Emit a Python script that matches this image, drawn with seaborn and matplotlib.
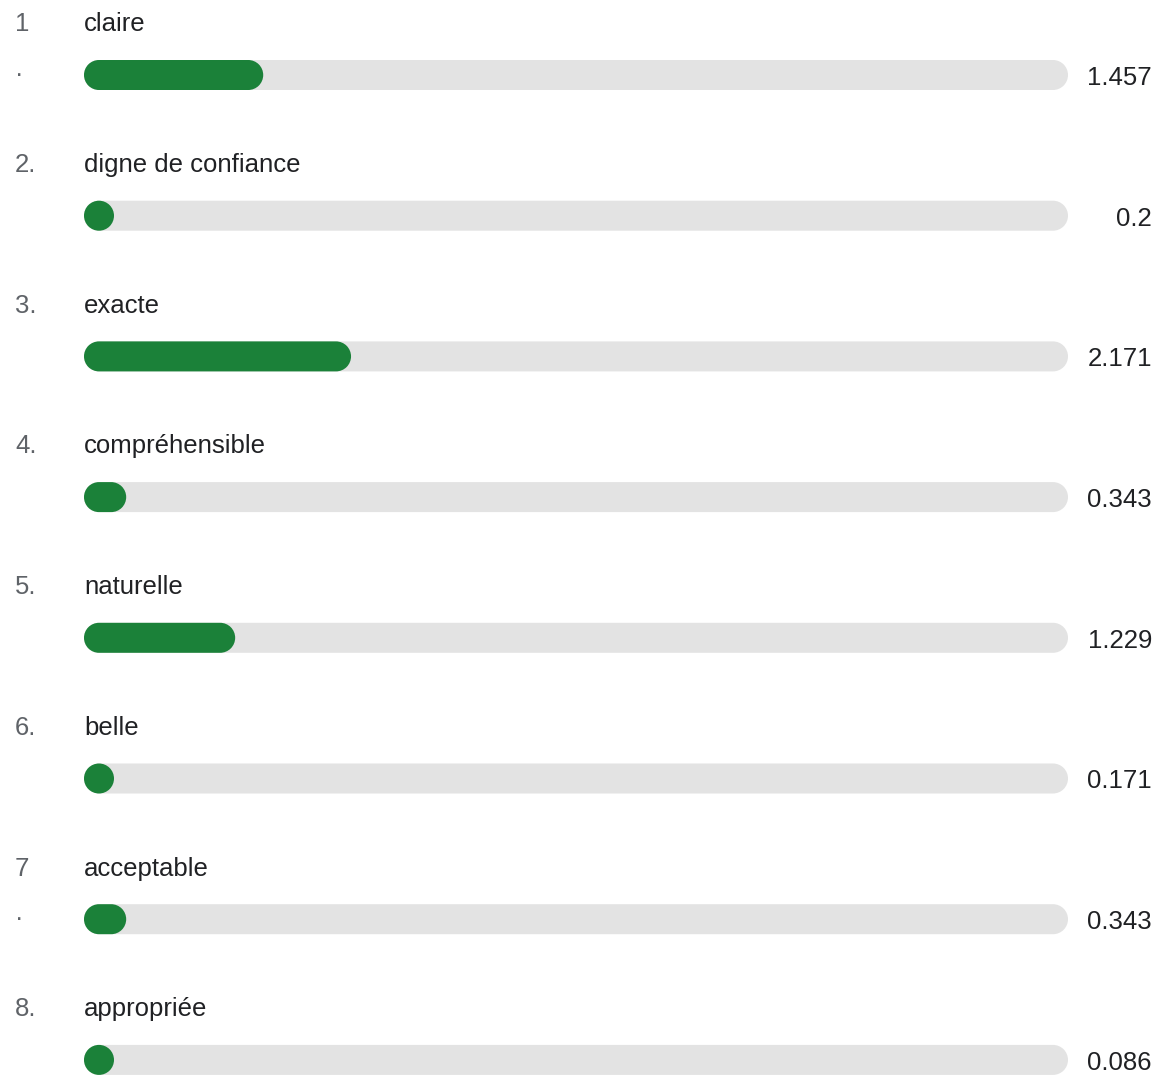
import matplotlib
matplotlib.use("Agg")
import matplotlib.pyplot as plt
import numpy as np
import pandas as pd
import seaborn as sns
from matplotlib import transforms
from matplotlib.path import Path
from matplotlib.patches import PathPatch

# data
numbers = ["1", "2.", "3.", "4.", "5.", "6.", "7", "8."]
number_marks = ["·", "", "", "", "", "", "·", ""]   # the wrapped "." of "1." and "7."
labels = ["claire", "digne de confiance", "exacte", "compréhensible",
          "naturelle", "belle", "acceptable", "appropriée"]
scores = [1.457, 0.2, 2.171, 0.343, 1.229, 0.171, 0.343, 0.086]
value_labels = ["1.457", "0.2", "2.171", "0.343", "1.229", "0.171", "0.343", "0.086"]
max_score = 8

GREEN = "#1b8139"
TRACK = "#e3e3e3"

df = pd.DataFrame({
    "label": labels,
    "score": scores,
    "track": [max_score] * len(labels),
})

sns.set_theme(style="white")
plt.rcParams["font.family"] = ["Liberation Sans", "DejaVu Sans"]

W, H = 1160, 1077
ROW_PX = 140.7
BAR_PX = 30
fig = plt.figure(figsize=(W / 100, H / 100), dpi=100)
ax = fig.add_axes([84 / W, 0, 984 / W, 1])

bar_w = BAR_PX / ROW_PX
sns.barplot(data=df, x="track", y="label", orient="h", color=TRACK,
            width=bar_w, saturation=1, ax=ax)
sns.barplot(data=df, x="score", y="label", orient="h", color=GREEN,
            width=bar_w, saturation=1, ax=ax)

ax.set_xlim(0, max_score)
ax.set_ylim((H - 75) / ROW_PX, -75 / ROW_PX)
ax.set_axis_off()


def pill(x, y, w, h, rx):
    # closed capsule path in data coords, semicircular ends
    ry = h / 2
    yc = y + ry
    right = Path.arc(-90, 90)
    left = Path.arc(90, 270)
    rv = right.vertices * [rx, ry] + [x + w - rx, yc]
    lv = left.vertices * [rx, ry] + [x + rx, yc]
    lc = left.codes.copy()
    lc[0] = Path.LINETO
    verts = np.vstack([rv, lv, rv[:1]])
    codes = np.concatenate([right.codes, lc, [Path.CLOSEPOLY]])
    return Path(verts, codes)


# turn the square bars into pills
p0 = ax.transData.transform((0, 0))
p1 = ax.transData.transform((1, 1))
rx = (BAR_PX / 2) / (p1[0] - p0[0])
for k, p in enumerate(list(ax.patches)):
    x, y = p.get_x(), p.get_y()
    w, h = p.get_width(), p.get_height()
    fc = p.get_facecolor()
    p.remove()
    ax.add_patch(PathPatch(pill(x, y, max(w, 2 * rx), h, rx), fc=fc, ec="none",
                           zorder=2 if k < len(labels) else 3))

tr = transforms.blended_transform_factory(fig.transFigure, ax.transData)
fs = 18.5
for i in range(len(labels)):
    ax.text(15 / W, i - 0.31, numbers[i], transform=tr, ha="left", va="baseline",
            fontsize=fs, color="#5f6368")
    if number_marks[i]:
        ax.text(15 / W, i, number_marks[i], transform=tr, ha="left", va="center",
                fontsize=fs, color="#5f6368")
    ax.text(84 / W, i - 0.31, labels[i], transform=tr, ha="left", va="baseline",
            fontsize=fs, color="#202124")
    ax.text(1152 / W, i + 0.07, value_labels[i], transform=tr, ha="right",
            va="baseline", fontsize=fs, color="#202124")

fig.savefig("out.png", dpi=100)
